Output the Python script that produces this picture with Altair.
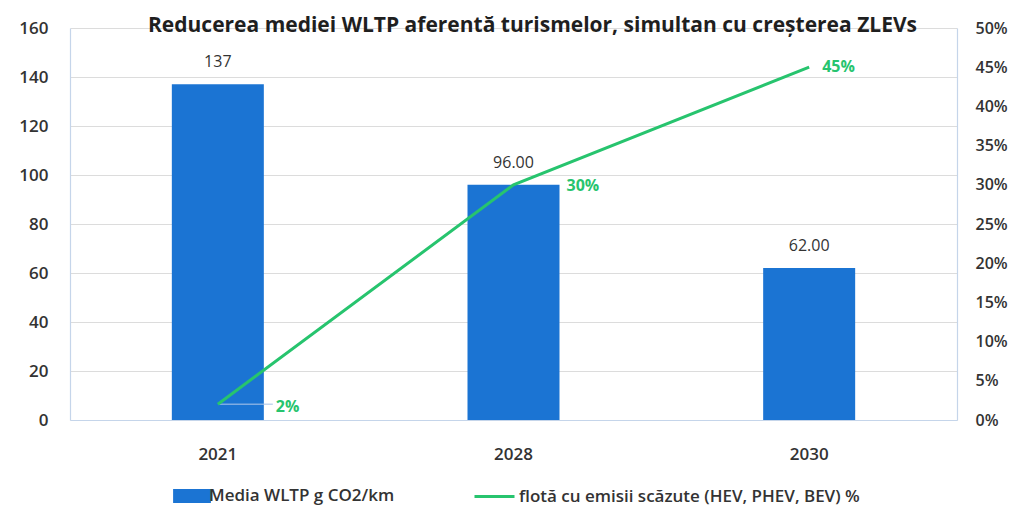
import altair as alt
import pandas as pd

years = ["2021", "2028", "2030"]
wltp = [137, 96, 62]
wltp_labels = ["137", "96.00", "62.00"]
fleet_share = [0.02, 0.30, 0.45]
fleet_labels = ["2%", "30%", "45%"]
bar_series = "Media WLTP g CO2/km"
line_series = "flotă cu emisii scăzute (HEV, PHEV, BEV) %"
title_text = "Reducerea mediei WLTP aferentă turismelor, simultan cu creșterea ZLEVs"
left_ticks = [0, 20, 40, 60, 80, 100, 120, 140, 160]
right_ticks = [0, 0.05, 0.10, 0.15, 0.20, 0.25, 0.30, 0.35, 0.40, 0.45, 0.50]

df = pd.DataFrame({
    "year": years,
    "wltp": wltp,
    "wltp_label": wltp_labels,
    "share": fleet_share,
    "share_label": fleet_labels,
    "bar_series": [bar_series] * len(years),
    "line_series": [line_series] * len(years),
})

FONT = "Open Sans"
BLUE = "#1b74d3"
GREEN = "#27c46e"
TXT = "#333333"
AXLINE = "#c5d5ea"

x = alt.X(
    "year:N", sort=years,
    scale=alt.Scale(paddingInner=0, paddingOuter=0),
    axis=alt.Axis(title=None, labelAngle=0, ticks=False, labelPadding=26,
                  labelFontSize=17, labelFontWeight=600, labelColor=TXT, labelFont=FONT,
                  domainColor=AXLINE, domainWidth=1.2),
)

y_left = alt.Y(
    "wltp:Q",
    scale=alt.Scale(domain=[0, 160]),
    axis=alt.Axis(title=None, values=left_ticks, grid=True, gridColor="#dcdcdc",
                  ticks=False, labelPadding=22, labelFontSize=17, labelFontWeight=600,
                  labelColor=TXT, labelFont=FONT, domainColor=AXLINE, domainWidth=1.2),
)

y_right = alt.Y(
    "share:Q",
    scale=alt.Scale(domain=[0, 0.5]),
    axis=alt.Axis(title=None, orient="right", values=right_ticks, format=".0%",
                  grid=False, ticks=False, labelPadding=18, labelFontSize=16,
                  labelFontWeight=600, labelColor=TXT, labelFont=FONT,
                  domainColor=AXLINE, domainWidth=1.2),
)

base = alt.Chart(df)

bars = base.mark_bar(size=92).encode(
    x=x,
    y=y_left,
    color=alt.Color(
        "bar_series:N",
        scale=alt.Scale(domain=[bar_series], range=[BLUE]),
        legend=alt.Legend(orient="none", legendX=108, legendY=454, title=None,
                          symbolType="M-1.35,-0.5H1.35V0.5H-1.35Z", symbolSize=784,
                          symbolStrokeWidth=0, labelFontSize=17, labelFontWeight=600,
                          labelColor=TXT, labelFont=FONT, padding=0, labelOffset=3,
                          labelLimit=600),
    ),
)

bar_text = base.mark_text(baseline="bottom", dy=-14, fontSize=16, font=FONT, color=TXT).encode(
    x=x, y=y_left, text="wltp_label:N"
)

line = base.mark_line(strokeWidth=3).encode(
    x=x,
    y=y_right,
    stroke=alt.Stroke(
        "line_series:N",
        scale=alt.Scale(domain=[line_series], range=[GREEN]),
        legend=alt.Legend(orient="none", legendX=403, legendY=447, title=None,
                          symbolType="stroke", symbolSize=1600, symbolStrokeWidth=3,
                          labelFontSize=17, labelFontWeight=600, labelColor=TXT,
                          labelFont=FONT, padding=0, labelOffset=3, labelLimit=600),
    ),
)

leader = base.transform_filter(alt.datum.year == "2021").mark_tick(
    size=54, thickness=1.5, xOffset=28, color="#a9c4e8"
).encode(x=x, y=y_right)

def pct_label(year, dx, dy):
    return base.transform_filter(alt.datum.year == year).mark_text(
        align="left", baseline="middle", dx=dx, dy=dy, fontSize=16, fontWeight="bold",
        font=FONT, color=GREEN
    ).encode(x=x, y=y_right, text="share_label:N")

left_layer = alt.layer(bars, bar_text)
right_layer = alt.layer(leader, line, pct_label("2021", 58, 3), pct_label("2028", 53, 1),
                        pct_label("2030", 13, 0))

chart = alt.layer(left_layer, right_layer).resolve_scale(
    y="independent", color="independent", stroke="independent"
).properties(
    width=887,
    height=392,
    title=alt.TitleParams(title_text, fontSize=21, fontWeight="bold", color="#1f1f1f",
                          font=FONT, offset=-17, dx=19, anchor="middle"),
    autosize=alt.AutoSizeParams(type="none"),
    padding={"left": 62, "top": 20, "right": 52, "bottom": 93},
).configure(background="white").configure_view(strokeWidth=0)

chart.save("out.html", embed_options={"renderer": "svg", "actions": False})
